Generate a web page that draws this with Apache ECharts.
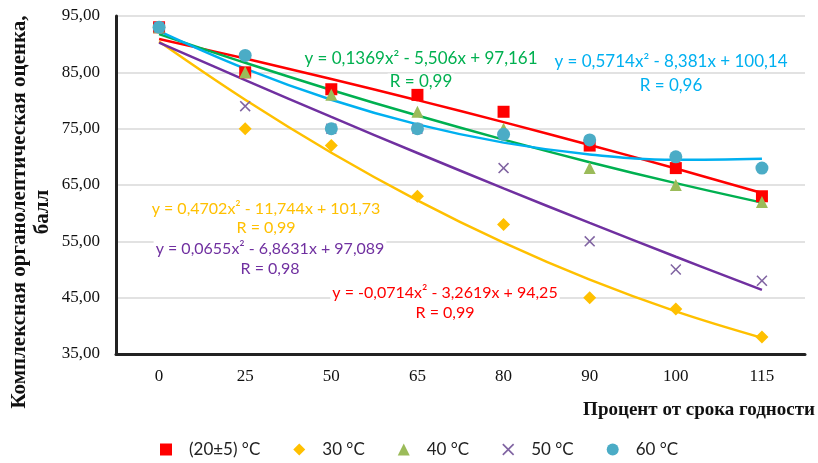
<!DOCTYPE html>
<html>
<head>
<meta charset="utf-8">
<script src="https://cdn.jsdelivr.net/npm/echarts@6/dist/echarts.min.js"></script>
<style>
  html, body { margin: 0; padding: 0; background: #fff; }
  #chart { width: 818px; height: 463px; }
</style>
</head>
<body>
<div id="chart"></div>
<script>
// категории (процент от срока годности)
const categories = ['0', '25', '50', '65', '80', '90', '100', '115'];

// точки по сериям
const t20 = [93, 85, 82, 81, 78, 72, 68, 63];
const t30 = [93, 75, 72, 63, 58, 45, 43, 38];
const t40 = [93, 85, 81, 78, 75, 68, 65, 62];
const t50 = [93, 79, 75, 75, 68, 55, 50, 48];
const t60 = [93, 88, 75, 75, 74, 73, 70, 68];

// коэффициенты линий тренда с графика: a*x^2 + b*x + c, x = 1..8
const fit20 = [-0.0714, -3.2619, 94.25];
const fit30 = [0.4702, -11.744, 101.73];
const fit40 = [0.1369, -5.506, 97.161];
const fit50 = [0.0655, -6.8631, 97.089];
const fit60 = [0.5714, -8.381, 100.14];

const names = ['(20±5) °C', '30 °C', '40 °C', '50 °C', '60 °C'];

function trend(k) {
  return categories.map(function (c, i) {
    const x = i + 1;
    return +(k[0] * x * x + k[1] * x + k[2]).toFixed(3);
  });
}

const crossPath = 'path://M0,1 L1,0 L5,4 L9,0 L10,1 L6,5 L10,9 L9,10 L5,6 L1,10 L0,9 L4,5 Z';

const chart = echarts.init(document.getElementById('chart'));

const scatter = function (name, data, symbol, color, size) {
  return {
    name: name, type: 'scatter', data: data, symbol: symbol, symbolSize: size,
    itemStyle: { color: color, opacity: 1 }, z: 3
  };
};
const line = function (data, color) {
  return {
    type: 'line', data: data, smooth: 0.4, showSymbol: false, silent: true,
    lineStyle: { color: color, width: 2.5 }, z: 2
  };
};

const eqFont = 'Lato, "Open Sans", sans-serif';
// подписи уравнений (x, y — центр строки)
const eq = function (x, y, txt, color, size) {
  return {
    type: 'text', x: x, y: y, z: 1,
    style: {
      text: txt, fill: color, font: (size || 17) + 'px ' + eqFont,
      textAlign: 'center', textVerticalAlign: 'middle',
      backgroundColor: '#fff', padding: [0, 2]
    }
  };
};

chart.setOption({
  animation: false,
  grid: { left: 116, right: 13, top: 16, bottom: 109 },
  xAxis: {
    type: 'category',
    data: categories,
    boundaryGap: true,
    axisLine: { lineStyle: { color: '#222', width: 3 } },
    axisTick: { show: false },
    axisLabel: { color: '#111', fontFamily: 'Liberation Serif', fontSize: 17, margin: 14 }
  },
  yAxis: {
    type: 'value',
    min: 35, max: 95, interval: 10,
    axisLine: { show: true, lineStyle: { color: '#222', width: 3 } },
    axisTick: { show: false },
    splitLine: { lineStyle: { color: '#d9d9d9', width: 1.5 } },
    axisLabel: {
      color: '#111', fontFamily: 'Liberation Serif', fontSize: 17, margin: 16,
      formatter: function (v) { return v.toFixed(2).replace('.', ','); }
    }
  },
  legend: {
    data: names,
    bottom: 0,
    left: 155,
    itemGap: 33,
    itemWidth: 12, itemHeight: 12,
    textStyle: { color: '#222', fontFamily: eqFont, fontSize: 17, padding: [0, 0, 0, 12] }
  },
  graphic: [
    {
      type: 'text', x: 815, y: 410,
      style: {
        text: 'Процент от срока годности', fill: '#111', font: 'bold 19px "Liberation Serif"',
        textAlign: 'right', textVerticalAlign: 'middle'
      }
    },
    {
      type: 'text', x: 20, y: 212, rotation: Math.PI / 2,
      style: {
        text: 'Комплексная органолептическая оценка,', fill: '#111', font: 'bold 21px "Liberation Serif"',
        textAlign: 'center', textVerticalAlign: 'middle'
      }
    },
    {
      type: 'text', x: 43, y: 212, rotation: Math.PI / 2,
      style: {
        text: 'балл', fill: '#111', font: 'bold 21px "Liberation Serif"',
        textAlign: 'center', textVerticalAlign: 'middle'
      }
    },
    eq(421, 59, 'y = 0,1369x² - 5,506x + 97,161', '#00B050'),
    eq(421, 82, 'R = 0,99', '#00B050'),
    eq(671, 62, 'y = 0,5714x² - 8,381x + 100,14', '#00B0F0'),
    eq(671, 86, 'R = 0,96', '#00B0F0'),
    eq(266, 209, 'y = 0,4702x² - 11,744x + 101,73', '#FFC000', 16),
    eq(266, 228, 'R = 0,99', '#FFC000', 16),
    eq(270, 249, 'y = 0,0655x² - 6,8631x + 97,089', '#7030A0', 16),
    eq(270, 269, 'R = 0,98', '#7030A0', 16),
    eq(445, 293, 'y = -0,0714x² - 3,2619x + 94,25', '#FF0000', 16),
    eq(445, 313, 'R = 0,99', '#FF0000', 16)
  ],
  series: [
    line(trend(fit20), '#FF0000'),
    line(trend(fit30), '#FFC000'),
    line(trend(fit40), '#00B050'),
    line(trend(fit50), '#7030A0'),
    line(trend(fit60), '#00B0F0'),
    scatter(names[0], t20, 'rect', '#FF0000', 12),
    scatter(names[1], t30, 'diamond', '#FFC000', 13),
    scatter(names[2], t40, 'triangle', '#9BBB59', 12),
    scatter(names[3], t50, crossPath, '#8064A2', 11),
    scatter(names[4], t60, 'circle', '#4BACC6', 13)
  ]
});
</script>
</body>
</html>
